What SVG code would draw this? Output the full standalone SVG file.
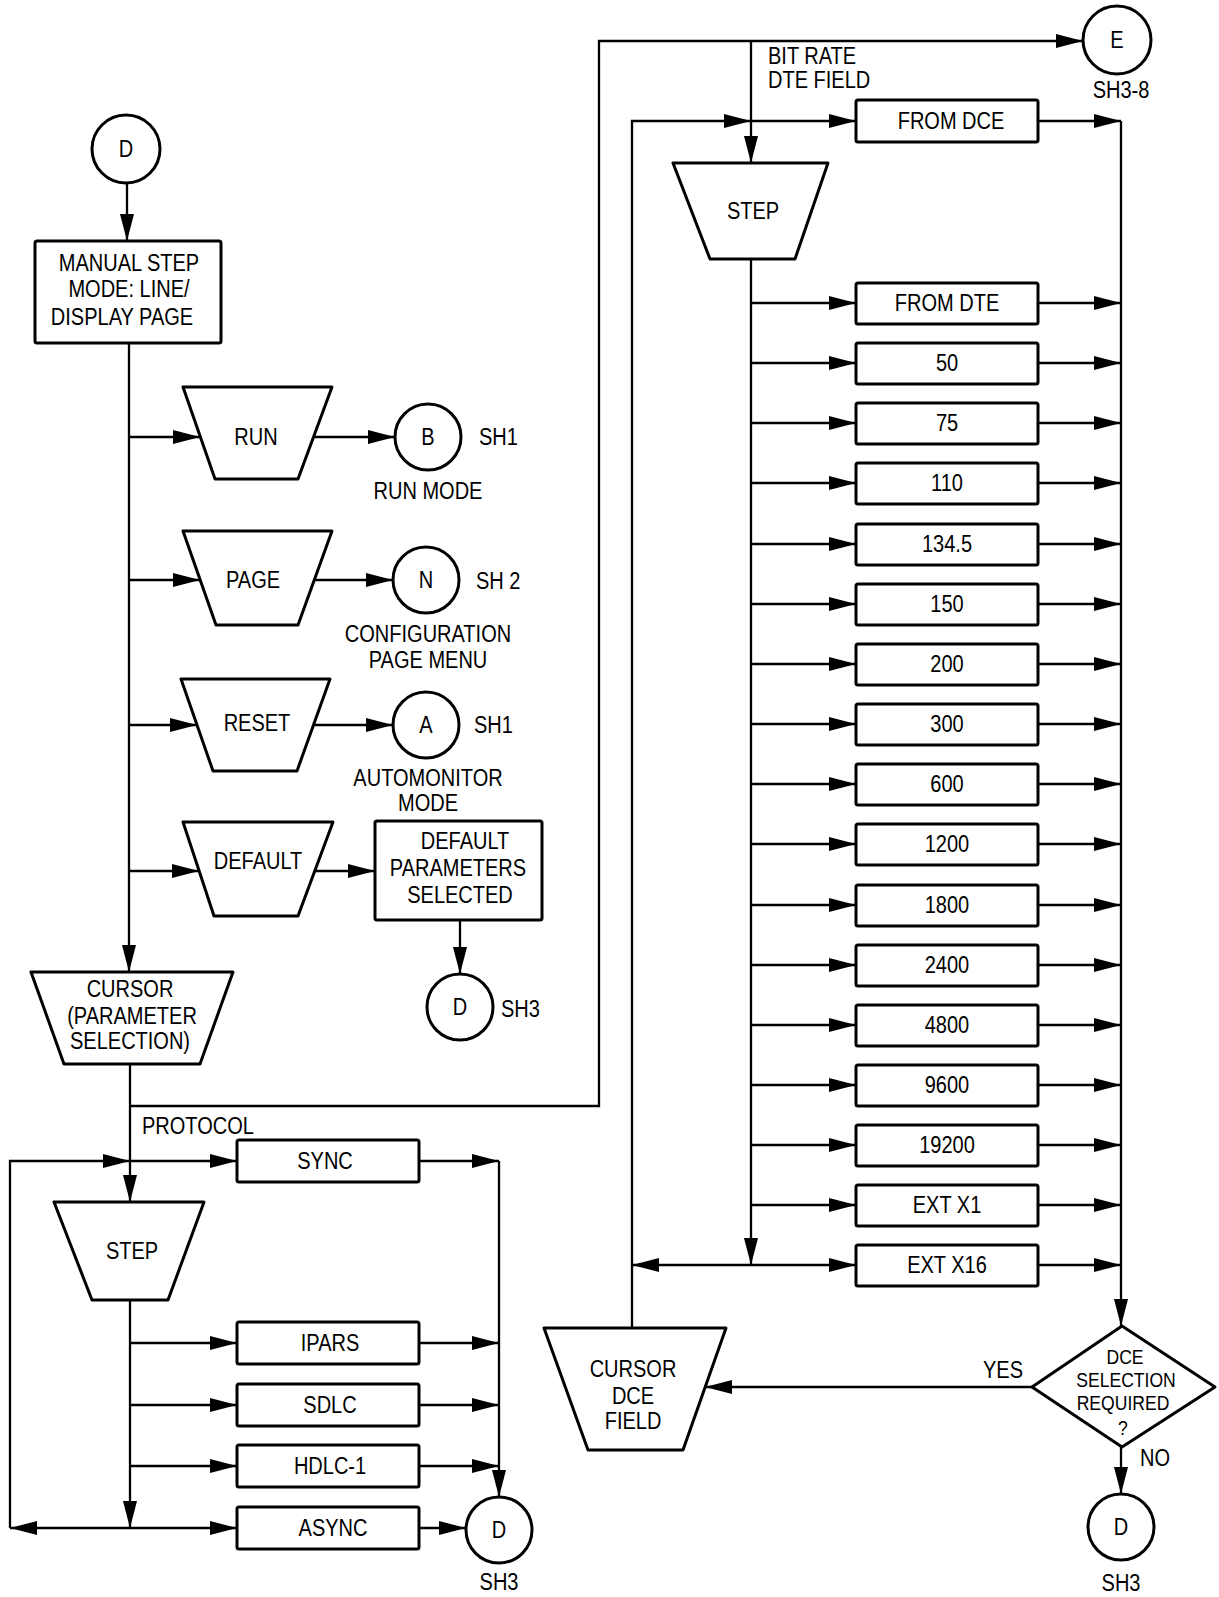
<svg xmlns="http://www.w3.org/2000/svg" width="1219" height="1597" viewBox="0 0 1219 1597">
<style>
.t{font-family:"Liberation Sans",Arial,sans-serif;font-size:23px;fill:#000;text-anchor:middle}
.d{font-size:19.5px}
.s{text-anchor:start}
.n{fill:#fff;stroke:#000;stroke-width:3;stroke-linejoin:round}
.c{fill:none;stroke:#000;stroke-width:2.3}
.a{marker-end:url(#ah)}
</style>
<defs>
<marker id="ah" viewBox="0 0 27 14" refX="27" refY="7" markerWidth="27" markerHeight="14" markerUnits="userSpaceOnUse" orient="auto"><path d="M0,0 L27,7 L0,14 z" fill="#000"/></marker>
</defs>
<rect width="1219" height="1597" fill="#fff"/>
<g id="connectors">
<line class="c a" x1="127" y1="183" x2="127" y2="241"/>
<line class="c a" x1="129" y1="343" x2="129" y2="972"/>
<line class="c a" x1="129" y1="437" x2="200" y2="437"/>
<line class="c a" x1="314" y1="437" x2="395" y2="437"/>
<line class="c a" x1="129" y1="580" x2="200" y2="580"/>
<line class="c a" x1="314" y1="580" x2="393" y2="580"/>
<line class="c a" x1="129" y1="725" x2="197" y2="725"/>
<line class="c a" x1="313" y1="725" x2="393" y2="725"/>
<line class="c a" x1="129" y1="871" x2="199" y2="871"/>
<line class="c a" x1="315" y1="871" x2="375" y2="871"/>
<line class="c a" x1="460" y1="920" x2="460" y2="974"/>
<line class="c a" x1="130" y1="1064" x2="130" y2="1202"/>
<polyline class="c a" points="130,1106 599,1106 599,41 1083,41"/>
<polyline class="c a" points="10,1528 10,1161 130,1161"/>
<line class="c a" x1="130" y1="1161" x2="237" y2="1161"/>
<line class="c a" x1="419" y1="1161" x2="499" y2="1161"/>
<line class="c a" x1="499" y1="1161" x2="499" y2="1497"/>
<line class="c a" x1="130" y1="1300" x2="130" y2="1528"/>
<line class="c a" x1="130" y1="1343" x2="237" y2="1343"/>
<line class="c a" x1="130" y1="1405" x2="237" y2="1405"/>
<line class="c a" x1="130" y1="1466" x2="237" y2="1466"/>
<line class="c a" x1="419" y1="1343" x2="499" y2="1343"/>
<line class="c a" x1="419" y1="1405" x2="499" y2="1405"/>
<line class="c a" x1="419" y1="1466" x2="499" y2="1466"/>
<line class="c a" x1="130" y1="1528" x2="10" y2="1528"/>
<line class="c a" x1="130" y1="1528" x2="237" y2="1528"/>
<line class="c a" x1="419" y1="1528" x2="466" y2="1528"/>
<line class="c a" x1="751" y1="41" x2="751" y2="163"/>
<polyline class="c a" points="632,1328 632,121 751,121"/>
<line class="c a" x1="751" y1="121" x2="856" y2="121"/>
<line class="c a" x1="1038" y1="121" x2="1121" y2="121"/>
<line class="c a" x1="1121" y1="121" x2="1121" y2="1326"/>
<line class="c a" x1="751" y1="259" x2="751" y2="1265"/>
<line class="c a" x1="751" y1="303" x2="856" y2="303"/><line class="c a" x1="1038" y1="303" x2="1121" y2="303"/>
<line class="c a" x1="751" y1="363" x2="856" y2="363"/><line class="c a" x1="1038" y1="363" x2="1121" y2="363"/>
<line class="c a" x1="751" y1="423" x2="856" y2="423"/><line class="c a" x1="1038" y1="423" x2="1121" y2="423"/>
<line class="c a" x1="751" y1="483" x2="856" y2="483"/><line class="c a" x1="1038" y1="483" x2="1121" y2="483"/>
<line class="c a" x1="751" y1="544" x2="856" y2="544"/><line class="c a" x1="1038" y1="544" x2="1121" y2="544"/>
<line class="c a" x1="751" y1="604" x2="856" y2="604"/><line class="c a" x1="1038" y1="604" x2="1121" y2="604"/>
<line class="c a" x1="751" y1="664" x2="856" y2="664"/><line class="c a" x1="1038" y1="664" x2="1121" y2="664"/>
<line class="c a" x1="751" y1="724" x2="856" y2="724"/><line class="c a" x1="1038" y1="724" x2="1121" y2="724"/>
<line class="c a" x1="751" y1="784" x2="856" y2="784"/><line class="c a" x1="1038" y1="784" x2="1121" y2="784"/>
<line class="c a" x1="751" y1="844" x2="856" y2="844"/><line class="c a" x1="1038" y1="844" x2="1121" y2="844"/>
<line class="c a" x1="751" y1="905" x2="856" y2="905"/><line class="c a" x1="1038" y1="905" x2="1121" y2="905"/>
<line class="c a" x1="751" y1="965" x2="856" y2="965"/><line class="c a" x1="1038" y1="965" x2="1121" y2="965"/>
<line class="c a" x1="751" y1="1025" x2="856" y2="1025"/><line class="c a" x1="1038" y1="1025" x2="1121" y2="1025"/>
<line class="c a" x1="751" y1="1085" x2="856" y2="1085"/><line class="c a" x1="1038" y1="1085" x2="1121" y2="1085"/>
<line class="c a" x1="751" y1="1145" x2="856" y2="1145"/><line class="c a" x1="1038" y1="1145" x2="1121" y2="1145"/>
<line class="c a" x1="751" y1="1205" x2="856" y2="1205"/><line class="c a" x1="1038" y1="1205" x2="1121" y2="1205"/>
<line class="c a" x1="751" y1="1265" x2="856" y2="1265"/><line class="c a" x1="1038" y1="1265" x2="1121" y2="1265"/>
<line class="c a" x1="751" y1="1265" x2="632" y2="1265"/>
<line class="c a" x1="1032" y1="1387" x2="705" y2="1387"/>
<line class="c a" x1="1121" y1="1447" x2="1121" y2="1494"/>
</g>
<g id="labels">
<text class="t s" transform="translate(142,1134) scale(.87,1)">PROTOCOL</text>
<text class="t s" transform="translate(768,64) scale(.87,1)">BIT RATE</text>
<text class="t s" transform="translate(768,88) scale(.87,1)">DTE FIELD</text>
<text class="t" transform="translate(1003,1378) scale(.87,1)">YES</text>
<text class="t" transform="translate(1155,1466) scale(.87,1)">NO</text>
</g>
<g id="d-top"><circle class="n" cx="126" cy="149" r="34"/><text class="t" transform="translate(126,157) scale(.87,1)">D</text></g>
<g id="manual-step"><rect class="n" x="35" y="241" width="186" height="102" rx="2"/>
<text class="t" transform="translate(129,271) scale(.87,1)">MANUAL STEP</text><text class="t" transform="translate(129,297) scale(.87,1)">MODE: LINE/</text><text class="t" transform="translate(122,325) scale(.87,1)">DISPLAY PAGE</text></g>
<g id="run"><polygon class="n" points="183,387 332,387 298,479 215,479"/><text class="t" transform="translate(256,445) scale(.87,1)">RUN</text></g>
<g id="b-sh1"><circle class="n" cx="428" cy="437" r="33"/><text class="t" transform="translate(428,445) scale(.87,1)">B</text>
<text class="t s" transform="translate(479,445) scale(.87,1)">SH1</text><text class="t" transform="translate(428,499) scale(.87,1)">RUN MODE</text></g>
<g id="page"><polygon class="n" points="183,531 332,531 298,625 216,625"/><text class="t" transform="translate(253,588) scale(.87,1)">PAGE</text></g>
<g id="n-sh2"><circle class="n" cx="426" cy="580" r="33"/><text class="t" transform="translate(426,588) scale(.87,1)">N</text>
<text class="t s" transform="translate(476,589) scale(.87,1)">SH 2</text><text class="t" transform="translate(428,642) scale(.87,1)">CONFIGURATION</text><text class="t" transform="translate(428,668) scale(.87,1)">PAGE MENU</text></g>
<g id="reset"><polygon class="n" points="181,679 330,679 297,771 213,771"/><text class="t" transform="translate(257,731) scale(.87,1)">RESET</text></g>
<g id="a-sh1"><circle class="n" cx="426" cy="725" r="33"/><text class="t" transform="translate(426,733) scale(.87,1)">A</text>
<text class="t s" transform="translate(474,733) scale(.87,1)">SH1</text><text class="t" transform="translate(428,786) scale(.87,1)">AUTOMONITOR</text><text class="t" transform="translate(428,811) scale(.87,1)">MODE</text></g>
<g id="default"><polygon class="n" points="183,822 333,822 298,916 214,916"/><text class="t" transform="translate(258,869) scale(.87,1)">DEFAULT</text></g>
<g id="default-params"><rect class="n" x="375" y="821" width="167" height="99" rx="2"/>
<text class="t" transform="translate(465,849) scale(.87,1)">DEFAULT</text><text class="t" transform="translate(458,876) scale(.87,1)">PARAMETERS</text><text class="t" transform="translate(460,903) scale(.87,1)">SELECTED</text></g>
<g id="d-sh3-mid"><circle class="n" cx="460" cy="1007" r="33"/><text class="t" transform="translate(460,1015) scale(.87,1)">D</text><text class="t s" transform="translate(501,1017) scale(.87,1)">SH3</text></g>
<g id="cursor-param"><polygon class="n" points="31,972 233,972 200,1064 64,1064"/>
<text class="t" transform="translate(130,997) scale(.87,1)">CURSOR</text><text class="t" transform="translate(132,1024) scale(.87,1)">(PARAMETER</text><text class="t" transform="translate(130,1049) scale(.87,1)">SELECTION)</text></g>
<g id="sync"><rect class="n" x="237" y="1140" width="182" height="42" rx="2"/><text class="t" transform="translate(325,1169) scale(.87,1)">SYNC</text></g>
<g id="step-left"><polygon class="n" points="54,1202 204,1202 168,1300 92,1300"/><text class="t" transform="translate(132,1259) scale(.87,1)">STEP</text></g>
<g id="ipars"><rect class="n" x="237" y="1322" width="182" height="42" rx="2"/><text class="t" transform="translate(330,1351) scale(.87,1)">IPARS</text></g>
<g id="sdlc"><rect class="n" x="237" y="1384" width="182" height="42" rx="2"/><text class="t" transform="translate(330,1413) scale(.87,1)">SDLC</text></g>
<g id="hdlc"><rect class="n" x="237" y="1445" width="182" height="42" rx="2"/><text class="t" transform="translate(330,1474) scale(.87,1)">HDLC-1</text></g>
<g id="async"><rect class="n" x="237" y="1507" width="182" height="42" rx="2"/><text class="t" transform="translate(333,1536) scale(.87,1)">ASYNC</text></g>
<g id="d-sh3-left"><circle class="n" cx="499" cy="1530" r="33"/><text class="t" transform="translate(499,1538) scale(.87,1)">D</text><text class="t" transform="translate(499,1590) scale(.87,1)">SH3</text></g>
<g id="e-sh3-8"><circle class="n" cx="1117" cy="40" r="34"/><text class="t" transform="translate(1117,48) scale(.87,1)">E</text><text class="t" transform="translate(1121,98) scale(.87,1)">SH3-8</text></g>
<g id="from-dce"><rect class="n" x="856" y="100" width="182" height="42" rx="2"/><text class="t" transform="translate(951,129) scale(.87,1)">FROM DCE</text></g>
<g id="step-right"><polygon class="n" points="673,163 828,163 795,259 710,259"/><text class="t" transform="translate(753,219) scale(.87,1)">STEP</text></g>
<g id="r-fromdte"><rect class="n" x="856" y="283" width="182" height="41" rx="2"/><text class="t" transform="translate(947,311) scale(.87,1)">FROM DTE</text></g>
<g id="r-50"><rect class="n" x="856" y="343" width="182" height="41" rx="2"/><text class="t" transform="translate(947,371) scale(.87,1)">50</text></g>
<g id="r-75"><rect class="n" x="856" y="403" width="182" height="41" rx="2"/><text class="t" transform="translate(947,431) scale(.87,1)">75</text></g>
<g id="r-110"><rect class="n" x="856" y="463" width="182" height="41" rx="2"/><text class="t" transform="translate(947,491) scale(.87,1)">110</text></g>
<g id="r-134"><rect class="n" x="856" y="524" width="182" height="41" rx="2"/><text class="t" transform="translate(947,552) scale(.87,1)">134.5</text></g>
<g id="r-150"><rect class="n" x="856" y="584" width="182" height="41" rx="2"/><text class="t" transform="translate(947,612) scale(.87,1)">150</text></g>
<g id="r-200"><rect class="n" x="856" y="644" width="182" height="41" rx="2"/><text class="t" transform="translate(947,672) scale(.87,1)">200</text></g>
<g id="r-300"><rect class="n" x="856" y="704" width="182" height="41" rx="2"/><text class="t" transform="translate(947,732) scale(.87,1)">300</text></g>
<g id="r-600"><rect class="n" x="856" y="764" width="182" height="41" rx="2"/><text class="t" transform="translate(947,792) scale(.87,1)">600</text></g>
<g id="r-1200"><rect class="n" x="856" y="824" width="182" height="41" rx="2"/><text class="t" transform="translate(947,852) scale(.87,1)">1200</text></g>
<g id="r-1800"><rect class="n" x="856" y="885" width="182" height="41" rx="2"/><text class="t" transform="translate(947,913) scale(.87,1)">1800</text></g>
<g id="r-2400"><rect class="n" x="856" y="945" width="182" height="41" rx="2"/><text class="t" transform="translate(947,973) scale(.87,1)">2400</text></g>
<g id="r-4800"><rect class="n" x="856" y="1005" width="182" height="41" rx="2"/><text class="t" transform="translate(947,1033) scale(.87,1)">4800</text></g>
<g id="r-9600"><rect class="n" x="856" y="1065" width="182" height="41" rx="2"/><text class="t" transform="translate(947,1093) scale(.87,1)">9600</text></g>
<g id="r-19200"><rect class="n" x="856" y="1125" width="182" height="41" rx="2"/><text class="t" transform="translate(947,1153) scale(.87,1)">19200</text></g>
<g id="r-extx1"><rect class="n" x="856" y="1185" width="182" height="41" rx="2"/><text class="t" transform="translate(947,1213) scale(.87,1)">EXT X1</text></g>
<g id="r-extx16"><rect class="n" x="856" y="1245" width="182" height="41" rx="2"/><text class="t" transform="translate(947,1273) scale(.87,1)">EXT X16</text></g>
<g id="dce-decision"><polygon class="n" points="1122,1326 1215,1387 1122,1447 1032,1387"/>
<text class="t d" transform="translate(1125,1364) scale(.9,1)">DCE</text><text class="t d" transform="translate(1126,1387) scale(.9,1)">SELECTION</text><text class="t d" transform="translate(1123,1410) scale(.9,1)">REQUIRED</text><text class="t d" transform="translate(1123,1435) scale(.9,1)">?</text></g>
<g id="cursor-dce"><polygon class="n" points="544,1328 726,1328 683,1450 588,1450"/>
<text class="t" transform="translate(633,1377) scale(.87,1)">CURSOR</text><text class="t" transform="translate(633,1404) scale(.87,1)">DCE</text><text class="t" transform="translate(633,1429) scale(.87,1)">FIELD</text></g>
<g id="d-sh3-right"><circle class="n" cx="1121" cy="1527" r="33"/><text class="t" transform="translate(1121,1535) scale(.87,1)">D</text><text class="t" transform="translate(1121,1591) scale(.87,1)">SH3</text></g>
</svg>
